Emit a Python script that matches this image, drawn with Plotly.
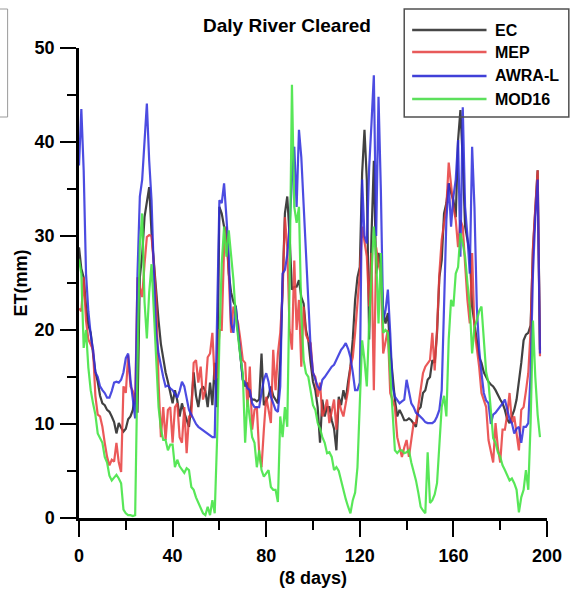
import plotly.graph_objects as go

# 8-day period index
periods = list(range(198))

ec = [28.8, 26.5, 25.6, 22.5, 20.5, 19.7, 17.5, 15.5, 14.5, 13.0,
      12.2, 12.0, 11.5, 11.3, 10.8, 10.2, 9.0, 10.1, 9.6, 9.2,
      9.5, 10.5, 10.8, 11.5, 13.3, 11.2, 25.6, 28.0, 32.0, 33.5,
      35.2, 30.3, 27.0, 24.0, 21.0, 18.5, 17.0, 15.5, 14.5, 13.5,
      12.2, 13.6, 12.5, 10.8, 12.2, 11.2, 10.5, 9.7, 12.0, 15.5,
      13.0, 11.8, 13.6, 14.0, 13.5, 11.8, 14.4, 12.0, 16.5, 11.8,
      33.1, 32.4, 31.0, 30.3, 26.0, 24.0, 23.0, 22.5, 19.7, 17.5,
      14.7, 14.0, 14.4, 13.0, 12.6, 12.6, 12.4, 12.6, 17.5, 12.0,
      12.6, 13.0, 14.0, 13.0, 12.6, 12.2, 16.8, 26.0, 32.4, 34.2,
      30.0, 24.3, 24.6, 24.6, 25.3, 23.5, 22.8, 20.0, 18.9, 16.5,
      14.5, 13.6, 11.8, 8.0, 12.6, 10.8, 11.8, 11.8, 10.4, 9.5,
      7.2, 12.9, 12.0, 13.6, 12.6, 14.5, 16.1, 19.0, 23.2, 25.6,
      26.7, 36.7, 41.3, 36.0, 19.0, 30.0, 38.0, 26.0, 28.2, 26.7,
      22.0, 20.7, 21.8, 17.9, 15.0, 12.6, 10.8, 11.5, 11.0, 10.4,
      10.4, 10.6, 10.4, 10.1, 9.7, 11.5, 11.8, 13.3, 13.6, 14.7,
      15.0, 16.8, 16.5, 19.7, 25.6, 27.4, 32.4, 33.5, 35.6, 34.6,
      33.8, 32.0, 40.2, 43.4, 38.1, 31.0, 29.5, 28.2, 22.5, 20.7,
      19.0, 17.1, 16.5, 15.5, 15.0, 14.5, 14.2, 14.0, 13.6, 13.0,
      12.6, 12.2, 11.5, 10.5, 10.1, 10.8, 11.5, 12.6, 14.4, 16.5,
      18.9, 19.5, 19.7, 20.5, 28.5, 33.0, 37.0, 17.9]

mep = [22.3, 22.0, 25.6, 21.0, 19.0, 18.5, 17.9, 13.0, 11.0, 10.8,
       9.7, 8.0, 6.5, 5.6, 6.2, 6.0, 8.0, 5.9, 4.9, 14.0,
       13.3, 17.3, 14.0, 13.5, 12.2, 25.6, 24.5, 23.5, 27.0, 29.9,
       30.1, 30.0, 27.0, 23.2, 14.4, 8.6, 11.8, 8.3, 11.5, 11.8,
       8.0, 11.8, 12.2, 8.6, 8.0, 11.8, 6.9, 10.8, 10.8, 16.5,
       16.8, 14.4, 16.1, 12.6, 13.6, 17.1, 17.5, 19.7, 14.7, 15.0,
       20.0, 20.0, 28.8, 31.0, 26.0, 19.7, 22.5, 21.5, 20.7, 18.9,
       16.8, 16.5, 11.8, 16.1, 9.4, 11.5, 11.8, 6.9, 5.4, 9.4,
       12.9, 11.5, 10.1, 17.9, 13.6, 17.5, 19.7, 23.9, 32.0, 28.8,
       20.0, 17.9, 27.4, 20.0, 23.2, 16.1, 22.5, 19.5, 18.9, 18.6,
       15.4, 15.0, 12.9, 14.4, 10.8, 11.5, 12.6, 10.1, 11.5, 12.6,
       9.4, 12.6, 11.5, 10.8, 12.2, 13.6, 16.1, 17.1, 19.7, 22.8,
       26.0, 31.0, 29.6, 27.8, 22.5, 28.2, 13.6, 28.8, 27.0, 26.0,
       17.5, 18.9, 20.0, 13.3, 12.5, 11.8, 8.6, 7.6, 6.5, 7.5,
       8.3, 6.5, 8.5, 10.1, 10.1, 12.0, 13.6, 15.4, 16.1, 16.5,
       16.8, 19.7, 15.7, 20.0, 26.0, 29.6, 31.5, 33.1, 37.8, 35.2,
       33.1, 31.7, 28.8, 31.7, 31.0, 27.0, 23.2, 20.7, 28.2, 20.0,
       18.0, 16.1, 13.3, 12.5, 11.8, 8.3, 7.0, 5.9, 10.1, 7.5,
       5.9, 9.4, 9.4, 11.0, 13.3, 10.1, 10.8, 9.0, 7.2, 11.5,
       11.8, 13.5, 15.4, 20.0, 28.8, 33.0, 37.0, 17.2]

awra = [37.5, 43.5, 37.0, 26.0, 22.0, 19.5, 17.9, 15.5, 15.0, 14.0,
        13.6, 13.3, 12.8, 12.8, 13.5, 14.4, 14.5, 14.4, 14.7, 15.5,
        17.0, 17.5, 14.7, 12.5, 10.6, 26.0, 34.2, 36.0, 40.0, 44.1,
        38.0, 33.8, 26.0, 19.7, 17.5, 16.1, 15.0, 14.0, 14.1, 13.8,
        13.6, 13.2, 12.8, 13.5, 14.5, 14.0, 12.8, 11.5, 11.0, 10.5,
        10.0, 9.7, 9.5, 9.3, 9.1, 9.0, 8.8, 8.6, 8.6, 20.0,
        33.8, 33.5, 35.6, 32.0, 28.0, 20.7, 19.7, 22.5, 20.0, 17.0,
        14.7, 14.4, 13.8, 13.6, 12.2, 11.8, 11.8, 11.8, 13.3, 14.7,
        15.4, 14.5, 12.9, 12.2, 11.5, 11.3, 14.0, 26.0, 26.4, 28.0,
        31.0, 36.0, 39.5, 33.1, 41.3, 38.4, 33.0, 28.2, 22.0, 18.0,
        15.5, 14.7, 14.0, 13.6, 14.7, 15.0, 15.4, 15.8, 16.1, 16.3,
        16.8, 17.3, 17.9, 18.2, 18.6, 18.0, 17.1, 15.5, 13.6, 13.6,
        14.4, 36.0, 30.0, 29.2, 37.3, 42.0, 47.1, 30.0, 44.8, 34.9,
        21.0, 22.1, 24.3, 19.7, 14.0, 12.9, 12.6, 12.2, 12.4, 12.6,
        14.7, 13.5, 12.2, 11.8, 11.2, 11.0, 10.8, 10.5, 10.2, 10.1,
        10.1, 10.1, 10.3, 10.8, 11.5, 13.6, 22.5, 31.7, 35.6, 31.0,
        34.2, 36.0, 40.2, 27.8, 43.7, 33.1, 30.0, 26.0, 39.5, 33.1,
        22.5, 18.0, 15.4, 13.3, 12.5, 12.2, 10.0, 11.0, 11.2, 11.5,
        11.8, 12.2, 12.6, 11.5, 10.5, 10.1, 9.0, 9.5, 9.7, 8.0,
        9.7, 9.7, 10.1, 15.4, 26.0, 32.0, 36.0, 17.5]

mod16 = [27.5, 26.0, 18.1, 20.0, 16.0, 13.6, 12.2, 11.0, 9.0, 8.5,
         8.0, 6.5, 5.9, 4.5, 4.0, 4.3, 4.6, 4.2, 3.7, 0.9,
         0.5, 0.3, 0.3, 0.2, 0.3, 16.0, 29.0, 32.4, 23.0, 19.1,
         24.0, 27.0, 22.0, 17.0, 11.8, 9.5, 8.3, 8.3, 7.2, 7.8,
         7.8, 5.4, 6.2, 5.5, 5.1, 4.8, 5.3, 5.1, 3.3, 3.0,
         2.2, 1.6, 0.9, 0.5, 0.3, 1.2, 0.3, 1.9, 0.5, 8.3,
         18.9, 27.0, 31.0, 27.8, 30.6, 28.0, 25.3, 21.4, 19.0, 17.1,
         15.4, 8.0, 12.6, 10.4, 8.6, 8.0, 5.4, 7.2, 5.1, 4.4,
         4.8, 5.1, 3.3, 3.0, 3.0, 1.7, 10.8, 8.6, 11.8, 9.7,
         25.0, 46.1, 33.1, 31.4, 33.1, 21.8, 16.8, 15.4, 15.0, 13.6,
         12.0, 11.5, 10.1, 9.5, 8.6, 8.0, 6.9, 7.0, 6.5, 5.1,
         5.4, 5.0, 4.0, 2.7, 2.0, 1.2, 0.5, 1.9, 2.7, 5.4,
         11.8, 18.9, 16.8, 14.0, 20.7, 26.0, 31.0, 27.8, 20.7, 28.2,
         19.7, 20.0, 19.7, 15.4, 11.2, 7.2, 6.9, 7.2, 7.2, 6.9,
         7.0, 7.2, 5.9, 5.0, 4.0, 2.7, 1.2, 0.8, 0.5, 7.0,
         1.6, 1.9, 2.5, 3.7, 8.3, 11.8, 13.0, 10.8, 19.0, 23.2,
         22.5, 26.0, 26.7, 30.3, 29.2, 27.8, 25.0, 22.5, 17.5, 20.3,
         21.0, 22.0, 22.5, 19.3, 15.5, 14.4, 11.0, 8.5, 8.0, 7.0,
         6.5, 5.6, 5.1, 4.6, 4.0, 4.2, 3.7, 3.0, 0.6, 2.2,
         3.0, 5.1, 3.0, 10.1, 21.0, 15.0, 11.0, 8.6]

series_names = ["EC", "MEP", "AWRA-L", "MOD16"]
series_values = [ec, mep, awra, mod16]
series_colors = ["rgba(55,55,55,0.95)", "rgba(232,60,60,0.85)",
                 "rgba(45,45,220,0.85)", "rgba(70,228,70,0.9)"]
legend_colors = ["#474747", "#e85a5a", "#4040d8", "#5ce05c"]

fig = go.Figure()
for name, vals, col in zip(series_names, series_values, series_colors):
    fig.add_trace(go.Scatter(x=periods[:len(vals)], y=vals, mode="lines",
                             name=name, line=dict(color=col, width=2.2),
                             showlegend=False))

# pixel -> paper helpers (plot area 79..551 x, 48..518 y)
L, R, T, B = 79, 551, 48, 518
def px(x):
    return (x - L) / (R - L)
def py(y):
    return (B - y) / (B - T)

bold = dict(family="Liberation Sans, Arial, sans-serif", color="black", weight="bold")

shapes = []
annotations = []
# legend box
shapes.append(dict(type="rect", xref="paper", yref="paper",
                   x0=px(407), x1=px(573), y0=py(117), y1=py(9),
                   line=dict(color="#505050", width=1.5), layer="above"))
# stray box at far left
shapes.append(dict(type="rect", xref="paper", yref="paper",
                   x0=px(-6), x1=px(7), y0=py(117), y1=py(9),
                   line=dict(color="#9a9a9a", width=1), layer="above"))
rows = [30, 52, 76, 99]
for name, col, ry in zip(series_names, legend_colors, rows):
    shapes.append(dict(type="line", xref="paper", yref="paper",
                       x0=px(415), x1=px(490), y0=py(ry), y1=py(ry),
                       line=dict(color=col, width=2.5), layer="above"))
    annotations.append(dict(text=name, xref="paper", yref="paper",
                            x=px(497), y=py(ry), xanchor="left", yanchor="middle",
                            showarrow=False, font=dict(size=16, **bold)))

annotations.append(dict(text="ET(mm)", xref="paper", yref="paper",
                        x=px(20), y=py(283), xanchor="center", yanchor="middle",
                        textangle=-90, showarrow=False, font=dict(size=18, **bold)))
annotations.append(dict(text="(8 days)", xref="paper", yref="paper",
                        x=px(315), y=py(578), xanchor="center", yanchor="middle",
                        showarrow=False, font=dict(size=18, **bold)))

fig.update_layout(
    width=574, height=589, autosize=False,
    margin=dict(l=L, r=574 - R, t=T, b=589 - B),
    paper_bgcolor="white", plot_bgcolor="white",
    title=dict(text="Daly River Cleared", x=0.5, xanchor="center",
               y=1 - 25 / 589, yanchor="middle", yref="container",
               font=dict(size=19, **bold)),
    shapes=shapes, annotations=annotations,
    xaxis=dict(range=[0, 200], tick0=0, dtick=40, ticks="outside", ticklen=16,
               tickwidth=2, tickcolor="black", showline=True, linewidth=2.5,
               linecolor="black", showgrid=False, zeroline=False,
               ticklabelstandoff=4,
               tickfont=dict(size=18, **bold),
               minor=dict(dtick=20, tick0=0, ticks="outside", ticklen=9,
                          tickwidth=2, tickcolor="black", showgrid=False)),
    yaxis=dict(range=[0, 50], tick0=0, dtick=10, ticks="outside", ticklen=16,
               tickwidth=2, tickcolor="black", showline=True, linewidth=2.5,
               linecolor="black", showgrid=False, zeroline=False,
               ticklabelstandoff=2,
               tickfont=dict(size=18, **bold),
               minor=dict(dtick=5, tick0=0, ticks="outside", ticklen=9,
                          tickwidth=2, tickcolor="black", showgrid=False)),
)

fig.write_html("out.html", config={"responsive": False, "displayModeBar": False},
               post_script="document.body.style.margin='0';"
                           "document.body.style.overflow='hidden';")
